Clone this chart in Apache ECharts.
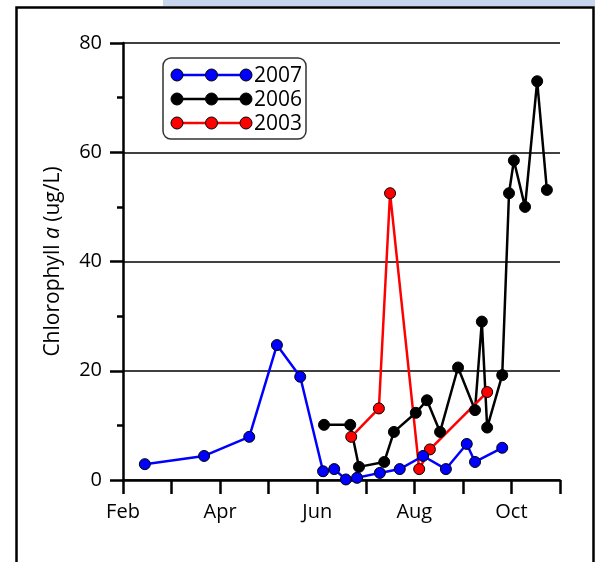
<!DOCTYPE html>
<html>
<head>
<meta charset="utf-8">
<script src="https://cdn.jsdelivr.net/npm/echarts@6/dist/echarts.min.js"></script>
<style>
html,body{margin:0;padding:0;background:#fff;}
#chart{width:595px;height:562px;}
</style>
</head>
<body>
<div id="chart"></div>
<script>
// x values in months after Feb 1 (0 = Feb 1, 9 = Nov 1); y in ug/L
var monthLabels = ['Feb', '', 'Apr', '', 'Jun', '', 'Aug', '', 'Oct', ''];
var yTicks = [0, 20, 40, 60, 80];

var x2007 = [0.45, 1.67, 2.60, 3.17, 3.65, 4.12, 4.35, 4.59, 4.82, 5.29, 5.70, 6.18, 6.65, 7.08, 7.25, 7.81];
var y2007 = [2.9, 4.4, 7.9, 24.7, 18.9, 1.6, 2.0, 0.1, 0.4, 1.3, 2.0, 4.4, 2.0, 6.6, 3.3, 5.9];

var x2006 = [4.14, 4.68, 4.86, 5.38, 5.58, 6.03, 6.26, 6.53, 6.90, 7.25, 7.39, 7.50, 7.81, 7.95, 8.05, 8.28, 8.53, 8.73];
var y2006 = [10.1, 10.1, 2.4, 3.3, 8.8, 12.3, 14.6, 8.8, 20.6, 12.8, 29.0, 9.6, 19.2, 52.5, 58.5, 50.0, 73.0, 53.1];

var x2003 = [4.70, 5.27, 5.50, 6.10, 6.32, 7.50];
var y2003 = [7.9, 13.1, 52.5, 2.0, 5.6, 16.1];

var seriesNames = ['2007', '2006', '2003'];
var seriesColors = ['#0000ff', '#000000', '#ff0000'];

function pairs(xs, ys) { return xs.map(function (x, i) { return [x, ys[i]]; }); }
var seriesData = {
  '2007': pairs(x2007, y2007),
  '2006': pairs(x2006, y2006),
  '2003': pairs(x2003, y2003)
};

var FONT = 'Open Sans';
var chart = echarts.init(document.getElementById('chart'), null, { renderer: 'canvas' });

// legend drawn as graphic elements (line with three markers per entry)
var legendGraphics = [{
  type: 'rect', shape: { x: 163, y: 58, width: 143, height: 81, r: 8 },
  style: { fill: '#fff', stroke: '#333', lineWidth: 1.5 }, z: 10
}];
seriesNames.forEach(function (name, i) {
  var cy = 75 + i * 24;
  legendGraphics.push({ type: 'line', shape: { x1: 177, y1: cy, x2: 246, y2: cy },
    style: { stroke: seriesColors[i], lineWidth: 2.5 }, z: 11 });
  [177, 211.5, 246].forEach(function (cx) {
    legendGraphics.push({ type: 'circle', shape: { cx: cx, cy: cy, r: 6 },
      style: { fill: seriesColors[i], stroke: '#000', lineWidth: 1 }, z: 12 });
  });
  legendGraphics.push({ type: 'text', x: 254, y: cy + 1,
    style: { text: name, font: '21px "' + FONT + '"', fill: '#000', verticalAlign: 'middle', align: 'left' }, z: 12 });
});

var frame = [
  { type: 'rect', shape: { x: 163, y: 0, width: 432, height: 6 }, style: { fill: '#c7d5ef' }, z: 0 },
  { type: 'polyline', shape: { points: [[16.5, 562], [16.5, 7.5], [593.5, 7.5], [593.5, 562]] },
    style: { stroke: '#000', lineWidth: 2.5, fill: null }, z: 1 }
];

var drawOrder = ['2006', '2003', '2007'];
var series = drawOrder.map(function (name) {
  var i = seriesNames.indexOf(name);
  return {
    name: name, type: 'line', data: seriesData[name],
    symbol: 'circle', symbolSize: 11,
    lineStyle: { color: seriesColors[i], width: 2.5 },
    itemStyle: { color: seriesColors[i], borderColor: '#000', borderWidth: 1 },
    emphasis: { disabled: true },
    animation: false, z: 3
  };
});

chart.setOption({
  backgroundColor: '#fff',
  animation: false,
  textStyle: { fontFamily: FONT },
  grid: { left: 123, right: 35, top: 43, bottom: 82, containLabel: false },
  xAxis: {
    type: 'value', min: 0, max: 9, interval: 1,
    axisLine: { show: true, lineStyle: { color: '#000', width: 2.5 } },
    axisTick: { show: true, inside: false, length: 14, lineStyle: { color: '#000', width: 2.5 } },
    axisLabel: { margin: 22, fontSize: 20, color: '#000', fontFamily: FONT,
      formatter: function (v) { return monthLabels[Math.round(v)] || ''; } },
    splitLine: { show: false }
  },
  yAxis: {
    type: 'value', min: yTicks[0], max: yTicks[yTicks.length - 1], interval: 20,
    name: '{n|Chlorophyll }{i|a}{n| (ug/L)}',
    nameLocation: 'middle', nameGap: 59,
    nameTextStyle: {
      rich: {
        n: { fontSize: 21, fontFamily: FONT, color: '#000' },
        i: { fontSize: 21, fontFamily: FONT, fontStyle: 'italic', color: '#000' }
      }
    },
    axisLine: { show: true, lineStyle: { color: '#000', width: 2.5 } },
    axisTick: { show: true, length: 13, lineStyle: { color: '#000', width: 2.5 } },
    minorTick: { show: true, splitNumber: 2, length: 6, lineStyle: { color: '#000', width: 2.5 } },
    axisLabel: { margin: 21, fontSize: 20, color: '#000', fontFamily: FONT },
    splitLine: { show: true, lineStyle: { color: '#000', width: 1.5 } }
  },
  graphic: frame.concat(legendGraphics),
  series: series
});
</script>
</body>
</html>
